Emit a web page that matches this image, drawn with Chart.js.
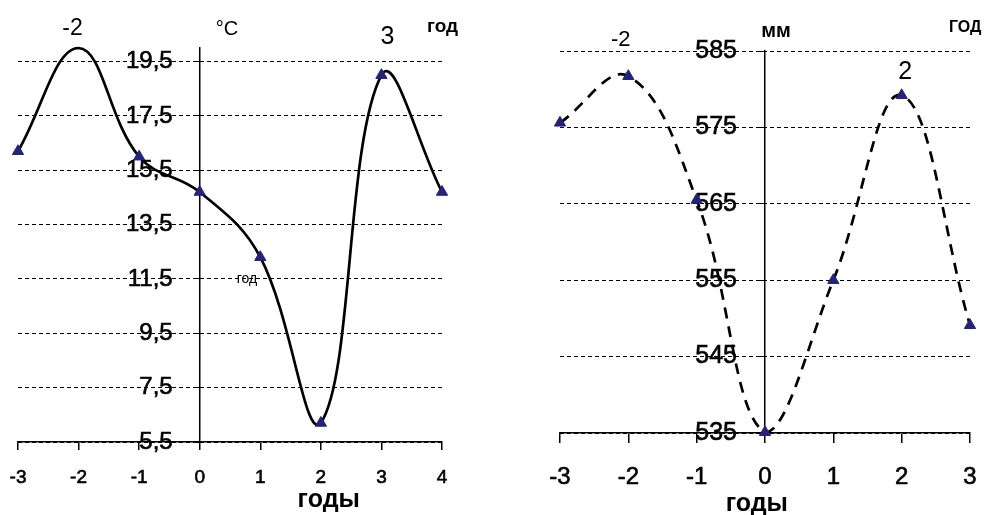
<!DOCTYPE html>
<html lang="ru">
<head>
<meta charset="UTF-8">
<title>Температура и осадки</title>
<script src="https://cdn.jsdelivr.net/npm/chart.js"></script>
<style>
  body { margin: 0; background: #fff; }
  #wrap { position: relative; width: 991px; height: 515px; }
  .box { position: absolute; top: 0; height: 515px; }
  #leftBox { left: 0; width: 495px; }
  #rightBox { left: 495px; width: 496px; }
</style>
</head>
<body>
<div id="wrap">
  <div class="box" id="leftBox"><canvas id="tempChart"></canvas></div>
  <div class="box" id="rightBox"><canvas id="rainChart"></canvas></div>
</div>
<script>
// левый график: температура, °C
const tempYears = [-3, -2, -1, 0, 1, 2, 3, 4];
const temperature = [16.2, 20.0, 16.0, 14.7, 12.3, 6.2, 19.0, 14.7];
const tempTicks = [5.5, 7.5, 9.5, 11.5, 13.5, 15.5, 17.5, 19.5];
const tempNoMarker = [-2];

// правый график: осадки, мм
const rainYears = [-3, -2, -1, 0, 1, 2, 3];
const precipitation = [575.6, 581.7, 565.5, 535.1, 555.0, 579.2, 549.1];
const rainTicks = [535, 545, 555, 565, 575, 585];

const FONT = "'Liberation Sans', Arial, sans-serif";
const MARKER = '#23237a';

// подписи поверх графика + сдвиг подписей оси Y влево от оси
const notesPlugin = {
    id: 'notes',
    beforeDraw(chart, args, opts) {
        const items = chart.scales.y.getLabelItems();
        if (!items._shifted) {
            items.forEach(it => { it.options.translation[0] -= opts.yShift; });
            items._shifted = true;
        }
    },
    afterDatasetsDraw(chart, args, opts) {
        const ctx = chart.ctx;
        const area = chart.chartArea;
        const xs = chart.scales.x;
        const ys = chart.scales.y;
        ctx.save();
        ctx.fillStyle = '#000';
        ctx.textAlign = 'center';
        ctx.textBaseline = 'middle';
        (opts.items || []).forEach(it => {
            ctx.font = it.font;
            const px = xs.getPixelForValue(it.x);
            let py;
            if (it.y !== undefined) py = ys.getPixelForValue(it.y);
            else if (it.top !== undefined) py = area.top + it.top;
            else py = area.bottom + it.bottom;
            ctx.fillText(it.text, px, py);
        });
        ctx.restore();
    }
};

function makeChart(id, years, values, ticks, cfg) {
    const points = years.map((x, i) => ({ x: x, y: values[i] }));
    const radius = years.map(x => (cfg.noMarker || []).includes(x) ? 0 : 6.5);
    return new Chart(document.getElementById(id), {
        type: 'line',
        data: {
            datasets: [{
                data: points,
                borderColor: '#000',
                borderWidth: 2.7,
                borderDash: cfg.dash || [],
                tension: 0.4,
                fill: false,
                clip: false,
                pointStyle: 'triangle',
                pointRadius: radius,
                pointBackgroundColor: MARKER,
                pointBorderColor: MARKER,
                pointBorderWidth: 1
            }]
        },
        options: {
            responsive: true,
            maintainAspectRatio: false,
            animation: false,
            layout: { padding: cfg.padding },
            plugins: {
                legend: { display: false },
                tooltip: { enabled: false },
                notes: { items: cfg.notes, yShift: cfg.yShift }
            },
            scales: {
                x: {
                    type: 'linear',
                    min: years[0],
                    max: years[years.length - 1],
                    afterBuildTicks: s => { s.ticks = years.map(v => ({ value: v })); },
                    afterFit: s => { s.height = cfg.xHeight; s.paddingLeft = 0; s.paddingRight = 0; },
                    grid: { drawOnChartArea: false, drawTicks: true, tickLength: cfg.xTickLen, color: '#000', lineWidth: 1.5 },
                    border: { display: true, color: '#000', width: 1.5 },
                    ticks: {
                        color: '#000', padding: cfg.xPad, maxRotation: 0,
                        textStrokeColor: '#000', textStrokeWidth: 0.6,
                        font: { family: FONT, size: cfg.xFont }
                    }
                },
                y: {
                    type: 'linear',
                    position: { x: 0 },
                    min: cfg.yMin,
                    max: cfg.yMax,
                    afterBuildTicks: s => { s.ticks = ticks.map(v => ({ value: v })); },
                    grid: { color: '#000', lineWidth: 1, drawTicks: true, tickLength: 4 },
                    border: { display: true, color: '#000', width: 1.5, dash: [4, 3] },
                    ticks: {
                        color: '#000',
                        textStrokeColor: '#000', textStrokeWidth: 0.6,
                        font: { family: FONT, size: cfg.yFont },
                        callback: v => cfg.fmt(v)
                    }
                }
            }
        },
        plugins: [notesPlugin]
    });
}

makeChart('tempChart', tempYears, temperature, tempTicks, {
    noMarker: tempNoMarker,
    yMin: 5.5, yMax: 20,
    padding: { left: 18, right: 53, top: 48, bottom: 0 },
    xHeight: 73, xTickLen: 8, xPad: 16, xFont: 19, yFont: 24, yShift: 27,
    fmt: v => v.toFixed(1).replace('.', ','),
    notes: [
        { text: '-2', x: -2.1, top: -19, font: '23px ' + FONT },
        { text: '°C', x: 0.45, top: -19, font: '20px ' + FONT },
        { text: '3', x: 3.1, top: -11, font: '25px ' + FONT },
        { text: 'год', x: 4.01, top: -21, font: 'bold 19px ' + FONT },
        { text: 'год', x: 0.78, y: 11.5, font: '14px ' + FONT },
        { text: 'годы', x: 2.13, bottom: 58, font: 'bold 25px ' + FONT }
    ]
});

makeChart('rainChart', rainYears, precipitation, rainTicks, {
    dash: [11, 8],
    yMin: 535, yMax: 585,
    padding: { left: 65, right: 21, top: 51, bottom: 0 },
    xHeight: 82, xTickLen: 10, xPad: 20, xFont: 24, yFont: 25, yShift: 28,
    fmt: v => String(v),
    notes: [
        { text: '-2', x: -2.11, top: -11, font: '22px ' + FONT },
        { text: 'мм', x: 0.16, top: -20, font: 'bold 20px ' + FONT },
        { text: 'ГОД', x: 2.93, top: -23, font: 'bold 16px ' + FONT },
        { text: '2', x: 2.05, top: 21, font: '25px ' + FONT },
        { text: 'годы', x: -0.12, bottom: 71, font: 'bold 25px ' + FONT }
    ]
});
</script>
</body>
</html>
